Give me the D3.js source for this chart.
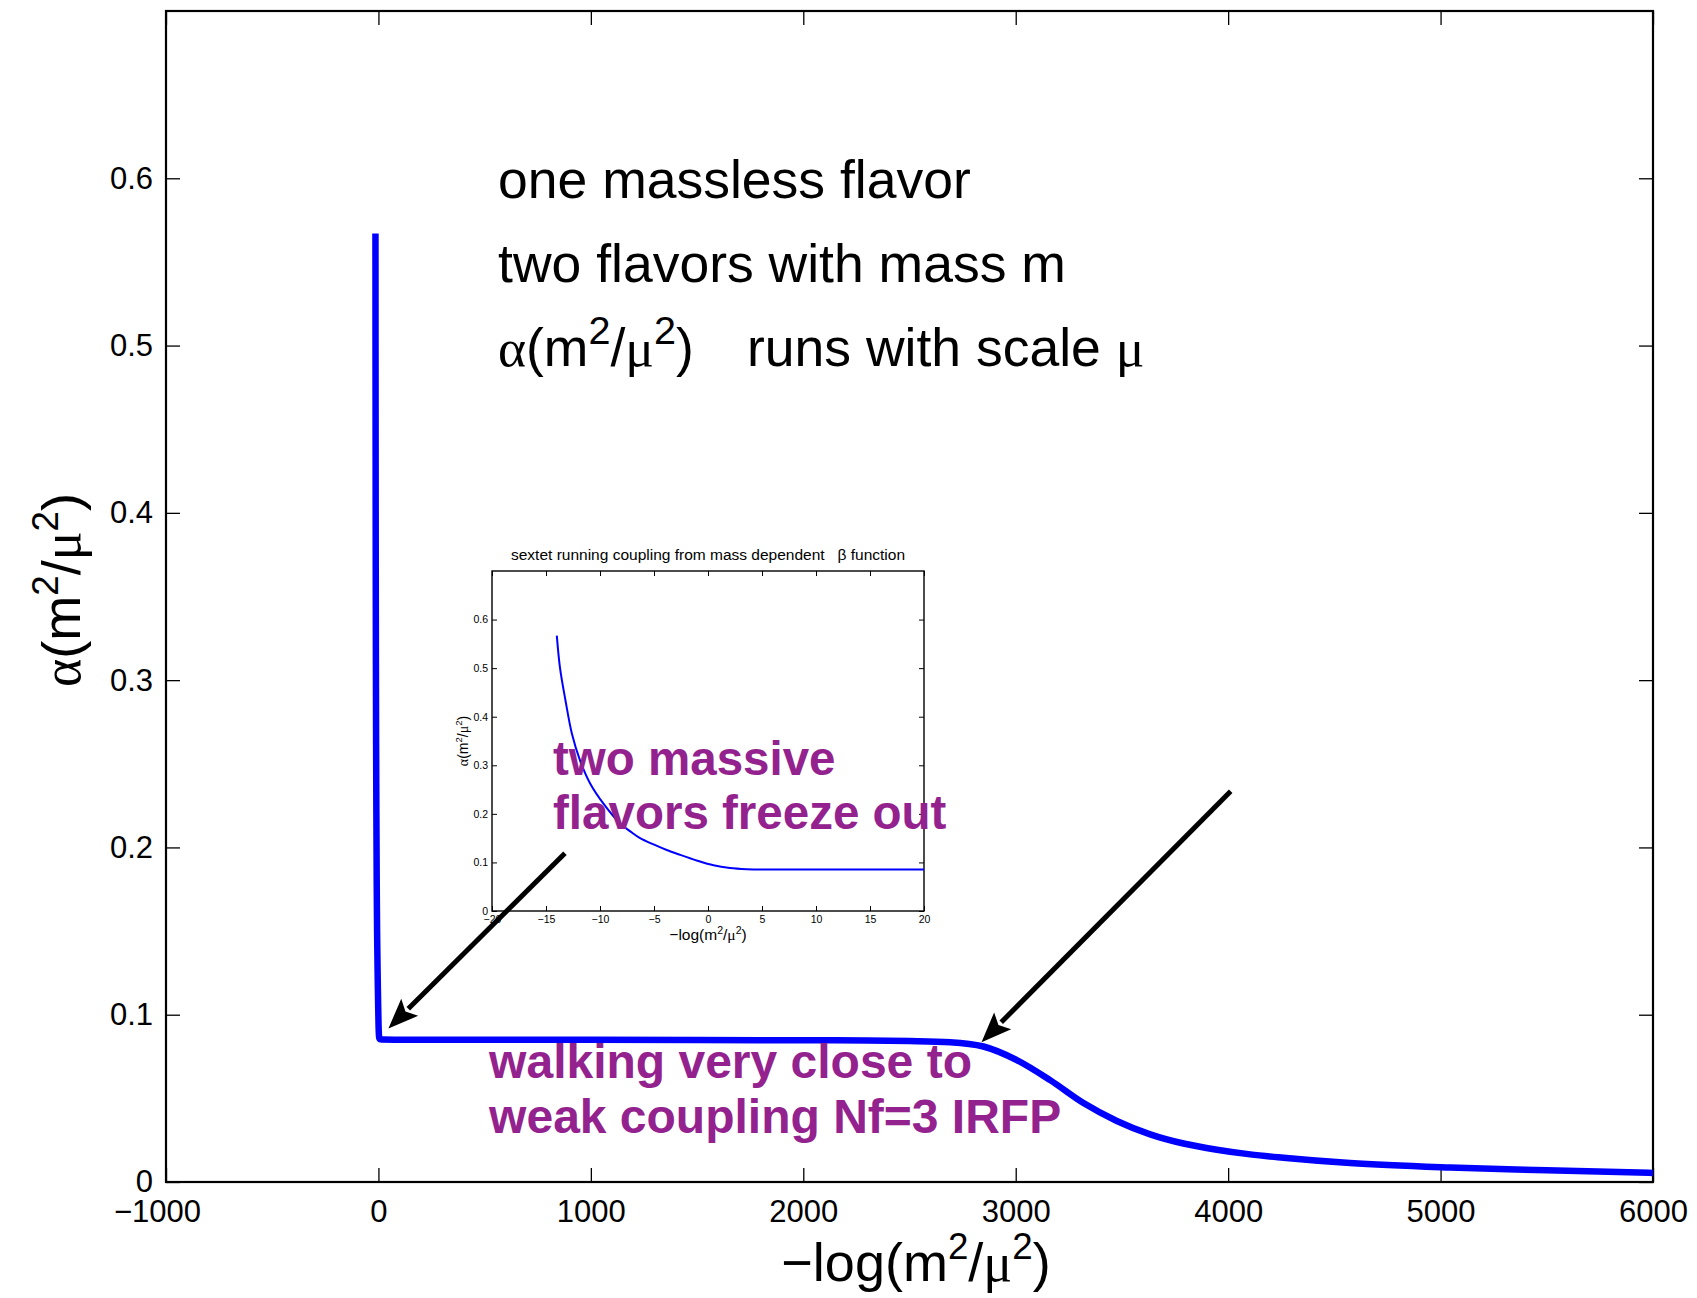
<!DOCTYPE html>
<html>
<head>
<meta charset="utf-8">
<script src="https://cdn.jsdelivr.net/npm/d3@7"></script>
<style>
  body { margin: 0; background: #fff; }
  svg { display: block; font-family: "Liberation Sans", Arial, sans-serif; }
  svg text { white-space: pre; }
</style>
</head>
<body>
<svg id="chart" width="1697" height="1298"></svg>
<script>
// curve: -log(m^2/mu^2) and alpha(m^2/mu^2)
const logScale = [-14, -13.7, -13.2, -12.6, -11.85, -10.9, -9.68, -8.13, -7.2, -6.29, -5.04, -3.82, -2.57,
  -1.05, 0.51, 2.03, 3.58, 6, 10, 20, 100, 500, 1000, 1500, 2000, 2300, 2500, 2691, 2848, 3005, 3162,
  3319, 3476, 3633, 3790, 3947, 4104, 4261, 4574, 5045, 5500, 6000];
const alphaVals = [0.567, 0.500, 0.434, 0.365, 0.310, 0.262, 0.221, 0.180, 0.164, 0.150, 0.137, 0.1255, 0.1155,
  0.104, 0.094, 0.0885, 0.0862, 0.0855, 0.0853, 0.0852, 0.0851, 0.0850, 0.0850, 0.0849, 0.0847, 0.0846, 0.0843,
  0.0836, 0.0810, 0.0729, 0.0609, 0.0472, 0.0365, 0.0285, 0.0230, 0.0193, 0.0165, 0.0145, 0.0113, 0.0086,
  0.0070, 0.0054];

const mainXTicks = [-1000, 0, 1000, 2000, 3000, 4000, 5000, 6000];
const yTicks = [0, 0.1, 0.2, 0.3, 0.4, 0.5, 0.6];
const insetXTicks = [-20, -15, -10, -5, 0, 5, 10, 15, 20];

const notes = ['one massless flavor', 'two flavors with mass m'];
const runsNote = 'runs with scale ';
const frozeNote = ['two massive', 'flavors freeze out'];
const walkNote = ['walking very close to', 'weak coupling Nf=3 IRFP'];
const insetTitle = 'sextet running coupling from mass dependent   β function';

// [text, kind]  g = greek glyph, s = superscript
const alphaLabel = [['α', 'g'], ['(m'], ['2', 's'], ['/'], ['μ', 'g'], ['2', 's'], [')']];
const logLabel = [['−log(m'], ['2', 's'], ['/'], ['μ', 'g'], ['2', 's'], [')']];

// arrows in data units: tail -> tip
const arrows = [
  { from: [878, 0.1965], to: [47, 0.0918] },
  { from: [4012, 0.2336], to: [2839, 0.0836] }
];

const purple = '#93228e';
const greekFont = '"Liberation Serif", "DejaVu Serif", serif';

const svg = d3.select('#chart');
const box = { left: 166, right: 1653, top: 11, bottom: 1182 };
const x = d3.scaleLinear().domain([-1000, 6000]).range([box.left, box.right]);
const y = d3.scaleLinear().domain([0, 0.7]).range([box.bottom, box.top]);

const points = logScale.map((v, i) => [v, alphaVals[i]]);
const yFmt = d => d === 0 ? '0' : d3.format('.1f')(d);

function addRich(sel, parts, fs, sup = 0.68) {
  parts.forEach(([t, kind], i) => {
    const ts = sel.append('tspan').text(t);
    if (kind === 'g') ts.attr('font-family', greekFont);
    if (kind === 's') ts.attr('font-size', fs * sup).attr('dy', -fs * 0.4);
    const prev = parts[i - 1];
    if (prev && prev[1] === 's') ts.attr('dy', fs * 0.4);
  });
}

function styleAxis(g, fs) {
  g.select('.domain').remove();
  g.attr('font-family', null).attr('font-size', fs);
  g.selectAll('.tick line').attr('stroke', '#000').attr('stroke-width', 1.3);
  g.selectAll('.tick text').attr('fill', '#000');
}

// ---- main axes
const gx = svg.append('g').attr('transform', `translate(0,${box.bottom})`)
  .call(d3.axisBottom(x).tickValues(mainXTicks).tickSizeInner(-14).tickSizeOuter(0)
    .tickPadding(18).tickFormat(d3.format('d')));
styleAxis(gx, 31);
gx.selectAll('.tick text').filter(d => d < 0).attr('dx', '-0.29em');

svg.append('g').attr('transform', `translate(0,${box.top})`)
  .call(d3.axisTop(x).tickValues(mainXTicks).tickSizeInner(-14).tickSizeOuter(0).tickFormat(''))
  .call(g => styleAxis(g, 31));

const gy = svg.append('g').attr('transform', `translate(${box.left},0)`)
  .call(d3.axisLeft(y).tickValues(yTicks).tickSizeInner(-14).tickSizeOuter(0)
    .tickPadding(13).tickFormat(yFmt));
styleAxis(gy, 31);

svg.append('g').attr('transform', `translate(${box.right},0)`)
  .call(d3.axisRight(y).tickValues(yTicks).tickSizeInner(-14).tickSizeOuter(0).tickFormat(''))
  .call(g => styleAxis(g, 31));

svg.append('rect')
  .attr('x', box.left).attr('y', box.top)
  .attr('width', box.right - box.left).attr('height', box.bottom - box.top)
  .attr('fill', 'none').attr('stroke', '#000').attr('stroke-width', 2.2);

// axis titles
addRich(svg.append('text').attr('x', 916).attr('y', 1281)
  .attr('text-anchor', 'middle').attr('font-size', 54), logLabel, 54);
addRich(svg.append('text').attr('transform', 'translate(80,590) rotate(-90)')
  .attr('text-anchor', 'middle').attr('font-size', 54), alphaLabel, 54);

// ---- main curve
const line = d3.line().x(d => x(d[0])).y(d => y(d[1])).curve(d3.curveMonotoneX);
svg.append('path').datum(points)
  .attr('d', line)
  .attr('fill', 'none').attr('stroke', '#0000ff').attr('stroke-width', 6.5)
  .attr('stroke-linejoin', 'round');

// ---- inset
const ib = { left: 492, right: 924, top: 571, bottom: 911 };
const ix = d3.scaleLinear().domain([-20, 20]).range([ib.left, ib.right]);
const iy = d3.scaleLinear().domain([0, 0.7]).range([ib.bottom, ib.top]);
const inset = svg.append('g');

const igx = inset.append('g').attr('transform', `translate(0,${ib.bottom})`)
  .call(d3.axisBottom(ix).tickValues(insetXTicks).tickSizeInner(-5).tickSizeOuter(0)
    .tickPadding(5).tickFormat(d3.format('d')));
styleAxis(igx, 10.5);
inset.append('g').attr('transform', `translate(0,${ib.top})`)
  .call(d3.axisTop(ix).tickValues(insetXTicks).tickSizeInner(-5).tickSizeOuter(0).tickFormat(''))
  .call(g => styleAxis(g, 10));
const igy = inset.append('g').attr('transform', `translate(${ib.left},0)`)
  .call(d3.axisLeft(iy).tickValues(yTicks).tickSizeInner(-5).tickSizeOuter(0)
    .tickPadding(4).tickFormat(yFmt));
styleAxis(igy, 10.5);
inset.append('g').attr('transform', `translate(${ib.right},0)`)
  .call(d3.axisRight(iy).tickValues(yTicks).tickSizeInner(-5).tickSizeOuter(0).tickFormat(''))
  .call(g => styleAxis(g, 10));
inset.selectAll('.tick line').attr('stroke-width', 1);

inset.append('rect')
  .attr('x', ib.left).attr('y', ib.top)
  .attr('width', ib.right - ib.left).attr('height', ib.bottom - ib.top)
  .attr('fill', 'none').attr('stroke', '#000').attr('stroke-width', 1.4);

inset.append('path').datum(points.filter(d => d[0] <= 20))
  .attr('d', d3.line().x(d => ix(d[0])).y(d => iy(d[1])).curve(d3.curveCatmullRom.alpha(0.5)))
  .attr('fill', 'none').attr('stroke', '#0000ff').attr('stroke-width', 2);

inset.append('text').attr('x', (ib.left + ib.right) / 2).attr('y', 560)
  .attr('text-anchor', 'middle').attr('font-size', 15.5).text(insetTitle);
addRich(inset.append('text').attr('x', (ib.left + ib.right) / 2).attr('y', 940)
  .attr('text-anchor', 'middle').attr('font-size', 15.5), logLabel, 15.5);
addRich(inset.append('text')
  .attr('transform', `translate(468,${(ib.top + ib.bottom) / 2}) rotate(-90)`)
  .attr('text-anchor', 'middle').attr('font-size', 14), alphaLabel, 14);

// ---- annotations
const noteX = 563;
svg.selectAll('text.note').data(notes).join('text')
  .attr('class', 'note')
  .attr('x', x(noteX)).attr('y', (d, i) => y([0.588, 0.538][i]))
  .attr('font-size', 53.5).text(d => d);
const third = svg.append('text').attr('x', x(noteX)).attr('y', y(0.488)).attr('font-size', 53.5);
addRich(third, alphaLabel, 53.5, 0.74);
third.append('tspan').attr('x', x(1735)).text(runsNote);
third.append('tspan').attr('font-family', greekFont).text('μ');

svg.selectAll('text.froze').data(frozeNote).join('text')
  .attr('class', 'froze')
  .attr('x', x(822)).attr('y', (d, i) => y([0.2431, 0.2109][i]))
  .attr('font-size', 47.5).attr('font-weight', 'bold').attr('fill', purple).text(d => d);

svg.selectAll('text.walk').data(walkNote).join('text')
  .attr('class', 'walk')
  .attr('x', x(521)).attr('y', (d, i) => y([0.0621, 0.0293][i]))
  .attr('font-size', 48).attr('font-weight', 'bold').attr('fill', purple).text(d => d);

// arrows
const headLen = 30, headHalf = 12;
arrows.forEach(a => {
  const x1 = x(a.from[0]), y1 = y(a.from[1]), x2 = x(a.to[0]), y2 = y(a.to[1]);
  const len = Math.hypot(x2 - x1, y2 - y1);
  const ux = (x2 - x1) / len, uy = (y2 - y1) / len;
  const bx = x2 - ux * headLen, by = y2 - uy * headLen;
  svg.append('line')
    .attr('x1', x1).attr('y1', y1).attr('x2', bx + ux * 2).attr('y2', by + uy * 2)
    .attr('stroke', '#000').attr('stroke-width', 5);
  svg.append('path')
    .attr('d', `M${x2},${y2}L${bx - uy * headHalf},${by + ux * headHalf}L${bx + ux * 6},${by + uy * 6}L${bx + uy * headHalf},${by - ux * headHalf}Z`)
    .attr('fill', '#000');
});
</script>
</body>
</html>
